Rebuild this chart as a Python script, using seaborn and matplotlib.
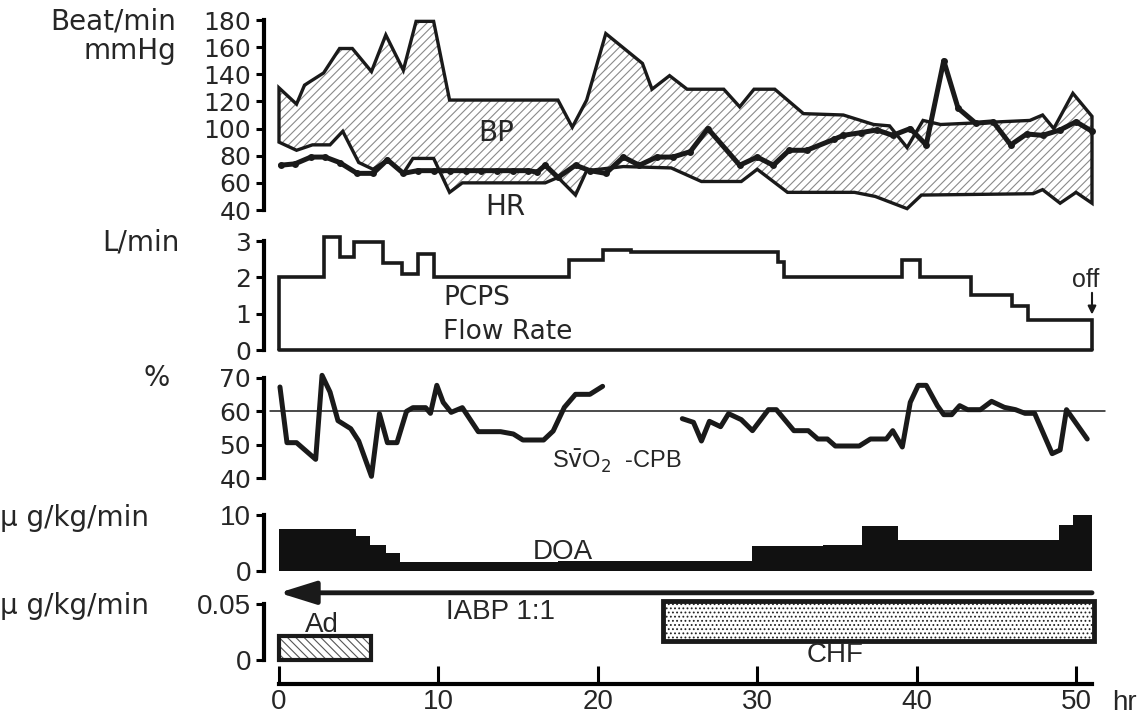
import numpy as np
import pandas as pd
import matplotlib
matplotlib.use('Agg')
import matplotlib.pyplot as plt
import seaborn as sns
from matplotlib import font_manager
from matplotlib.patches import Polygon, Rectangle

# ---- data (hours after PCPS start) ----
bp_sys_t = [0, 1.1, 1.6, 2.8, 3.8, 4.6, 5.8, 6.7, 7.8, 8.6, 9.7, 10.7, 17.5, 18.4, 19.3, 20.5,
            22.8, 23.4, 24.5, 25.6, 27.9, 28.9, 29.8, 31.1, 32.6, 32.9, 35.4, 37.3, 38.3, 39.4,
            40.4, 41.5, 47.1, 47.9, 48.6, 49.8, 51]
bp_sys = [130, 118, 132, 141, 159, 159, 142, 169, 143, 179, 179, 121, 121, 101, 121, 170,
          148, 129, 139, 129, 129, 116, 129, 129, 114, 111, 110, 103, 102, 86,
          106, 103, 106, 110, 100, 126, 109]
bp_dia_t = [0, 1.1, 2.1, 3.2, 4.0, 5.0, 5.9, 6.8, 7.8, 8.4, 9.7, 10.7, 11.5, 16.7, 17.5, 18.6,
            19.3, 21.6, 24.6, 26.5, 29, 30, 31.9, 35, 36.1, 37.4, 39.4, 40.3, 47.3, 47.9, 49, 50, 51]
bp_dia = [90, 84, 88, 88, 98, 75, 70, 77, 67, 78, 78, 53, 60, 60, 64, 51,
          69, 72, 71, 61, 61, 70, 53, 53, 53, 50, 41, 51, 52, 55, 45, 53, 45]
hr_t = [0.1, 1, 2, 2.9, 3.8, 4.9, 5.9, 6.8, 7.8, 8.7, 9.7, 10.7, 11.7, 12.7, 13.7, 14.7, 15.6,
        16.2, 16.7, 17.5, 18.6, 19.5, 20.5, 21.6, 22.6, 23.7, 24.7, 25.8, 26.9, 28.9, 30, 31,
        32, 33.1, 34.8, 35.4, 36.5, 37.5, 38.5, 39.6, 40.6, 41.7, 42.6, 43.7, 44.8, 45.9, 46.9,
        47.9, 49, 50, 51]
hr = [73, 74, 79, 79, 75, 67, 67, 77, 67, 69, 69, 69, 69, 69, 69, 69, 69,
      68, 73, 64, 73, 69, 67, 79, 73, 79, 79, 83, 100, 73, 79, 73,
      84, 84, 92, 95, 97, 99, 95, 100, 88, 150, 115, 104, 105, 88, 96,
      95, 99, 105, 98]

pcps_edges = [0, 2.8, 3.8, 4.7, 6.5, 7.7, 8.7, 9.7, 18.2, 20.3, 22.1, 31.3, 31.7, 39.1, 40.2,
              43.4, 46.0, 47.0, 51.0]
pcps_flow = [2.0, 3.1, 2.57, 2.97, 2.39, 2.09, 2.63, 2.02, 2.48, 2.74, 2.71, 2.43, 2.0, 2.48,
             2.02, 1.52, 1.22, 0.83]

svo2_t1 = [0.06, 0.5, 1.1, 2.3, 2.7, 3.2, 3.7, 4.5, 5.0, 5.8, 6.3, 6.8, 7.4, 8.0, 8.4, 9.2, 9.5,
           9.9, 10.3, 10.8, 11.5, 12.5, 13.9, 14.7, 15.3, 16.6, 17.2, 17.9, 18.6, 19.5, 20.3]
svo2_1 = [67.3, 50.6, 50.6, 45.6, 70.8, 65.8, 57.2, 54.8, 51.1, 40.5, 59.3, 50.6, 50.6, 60, 61.1,
          61.1, 59.4, 67.8, 62.7, 59.7, 61.1, 53.9, 53.9, 53.2, 51.4, 51.4, 54.1, 61.2, 65.1, 65.1, 67.5]
svo2_t2 = [25.3, 26, 26.5, 27, 27.7, 28.2, 29, 29.7, 30.7, 31.2, 32.3, 33.2, 33.8, 34.4, 34.9,
           36.4, 37.1, 38.1, 38.5, 39.1, 39.6, 40.1, 40.6, 41.3, 41.7, 42.2, 42.7, 43.2, 44,
           44.7, 45.5, 46.2, 46.8, 47.4, 48.5, 49, 49.4, 50.7]
svo2_2 = [57.8, 56.7, 51.1, 57, 55.4, 59.3, 57.5, 54.2, 60.5, 60.5, 54.2, 54.2, 51.7, 51.7, 49.6,
          49.6, 51.7, 51.7, 54.2, 49.3, 62.7, 67.8, 67.8, 61.7, 59, 59, 61.7, 60.5, 60.5,
          63, 61.2, 60.5, 59.4, 59.4, 47.3, 48.4, 60.5, 51.7]

doa_edges = [0, 4.8, 5.7, 6.7, 7.6, 17.5, 29.7, 34.1, 36.6, 38.8, 48.9, 49.8, 51]
doa_rate = [7.5, 6.2, 4.7, 3.2, 1.6, 1.8, 4.4, 4.6, 8.1, 5.5, 8.3, 10]

ad_span = (0, 5.75)
ad_rate = (0.0, 0.021)
chf_span = (24.1, 51.1)
chf_band = (0.0166, 0.0523)
iabp_span = (0, 51)

# ---- style ----
sns.set_style('white')
plt.rcParams['font.family'] = ['DejaVu Sans']
plt.rcParams['hatch.linewidth'] = 0.8
names = {f.name for f in font_manager.fontManager.ttflist}
NARROW = 'Liberation Sans Narrow' if 'Liberation Sans Narrow' in names else 'Liberation Sans'
FS = 17
W_PX, H_PX = 1140, 717
X0, X1 = 279, 1092

fig = plt.figure(figsize=(W_PX / 100, H_PX / 100), dpi=100)


def panel(top, bottom, lo, hi, ticks, ticklabels=None, narrow=False):
    ax = fig.add_axes([X0 / W_PX, 1 - bottom / H_PX, (X1 - X0) / W_PX, (bottom - top) / H_PX])
    ax.set_xlim(0, 51)
    ax.set_ylim(lo, hi)
    ax.patch.set_alpha(0)
    for s in ['top', 'right', 'bottom']:
        ax.spines[s].set_visible(False)
    ax.spines['left'].set_position(('outward', 11))
    ax.spines['left'].set_linewidth(3)
    ax.spines['left'].set_color('k')
    ax.set_yticks(ticks)
    if ticklabels is not None:
        ax.set_yticklabels(ticklabels)
    ax.tick_params(axis='y', direction='out', length=6, width=2.2, pad=3, labelsize=FS + 1,
                   color='k', left=True)
    ax.tick_params(axis='x', bottom=False, labelbottom=False)
    if narrow:
        for lab in ax.get_yticklabels():
            lab.set_fontfamily(NARROW)
            lab.set_fontsize(FS + 3)
    ax.grid(False)
    return ax


def ftext(x, y, s, **kw):
    fig.text(x / W_PX, 1 - y / H_PX, s, va='center', **kw)


# ---- panel 1: BP band and HR ----
ax1 = panel(20, 210, 40, 180, range(40, 181, 20))
poly_x = list(bp_sys_t) + list(bp_dia_t[::-1])
poly_y = list(bp_sys) + list(bp_dia[::-1])
xy = np.column_stack([poly_x, poly_y])
ax1.add_patch(Polygon(xy, closed=True, facecolor='white', edgecolor='#8a8a8a', hatch='////',
                      lw=0, clip_on=False))
ax1.add_patch(Polygon(xy, closed=True, facecolor='none', edgecolor='#1a1a1a', lw=2.4,
                      joinstyle='miter', clip_on=False))
sns.lineplot(x=hr_t, y=hr, ax=ax1, estimator=None, sort=False, color='#1a1a1a', lw=3.6,
             marker='o', markersize=5, markeredgewidth=0, clip_on=False)
ax1.text(13.6, 97, 'BP', ha='center', va='center', fontsize=FS + 3)
ax1.text(14.2, 42, 'HR', ha='center', va='center', fontsize=FS + 3)
ftext(176, 22, 'Beat/min', ha='right', fontsize=FS + 3)
ftext(176, 51, 'mmHg', ha='right', fontsize=FS + 3)

# ---- panel 2: PCPS flow ----
ax2 = panel(241, 350, 0, 3, [0, 1, 2, 3])
ax2.stairs(pcps_flow, pcps_edges, baseline=0, color='#1a1a1a', lw=2.6, clip_on=False)
ax2.plot([pcps_edges[0], pcps_edges[-1]], [0, 0], color='#1a1a1a', lw=2.6, clip_on=False)
ax2.text(10.3, 1.43, 'PCPS', ha='left', va='center', fontsize=FS + 2)
ax2.text(10.3, 0.5, 'Flow Rate', ha='left', va='center', fontsize=FS + 2)
ax2.text(50.6, 1.93, 'off', ha='center', va='center', fontsize=FS + 1, fontfamily=NARROW)
ax2.annotate('', xy=(51, 0.9), xytext=(51, 1.65),
             arrowprops=dict(arrowstyle='-|>', color='#1a1a1a', lw=1.5, mutation_scale=12),
             annotation_clip=False)
ftext(180, 243, 'L/min', ha='right', fontsize=FS + 3)

# ---- panel 3: SvO2 ----
ax3 = panel(378, 478, 40, 70, [40, 50, 60, 70])
ax3.axhline(60, xmin=-0.011, xmax=1.016, color='#1a1a1a', lw=1.1, clip_on=False)
sns.lineplot(x=svo2_t1, y=svo2_1, ax=ax3, estimator=None, sort=False, color='#1a1a1a', lw=3.6,
             clip_on=False)
sns.lineplot(x=svo2_t2, y=svo2_2, ax=ax3, estimator=None, sort=False, color='#1a1a1a', lw=3.6,
             clip_on=False)
ax3.text(17.1, 45, r'S$\bar{\mathrm{v}}$O$_2$  -CPB', ha='left', va='center', fontsize=FS,
         fontfamily=NARROW)
ftext(170, 378, '%', ha='right', fontsize=FS + 3)

# ---- panel 4: DOA ----
ax4 = panel(515, 571, 0, 10, [0, 10], narrow=True)
ax4.stairs(doa_rate, doa_edges, baseline=0, fill=True, color='#111111', clip_on=False)
ax4.text(17.8, 3.4, 'DOA', ha='center', va='center', fontsize=FS + 3, fontfamily=NARROW)
ftext(0, 518, 'μ g/kg/min', ha='left', fontsize=FS + 3)

# ---- panel 5: Ad, CHF, IABP and time axis ----
ax5 = panel(604, 660, 0, 0.05, [0, 0.05], ['0', '0.05'], narrow=True)
ax5.add_patch(Rectangle((ad_span[0], ad_rate[0]), ad_span[1] - ad_span[0], ad_rate[1] - ad_rate[0],
                        facecolor='white', edgecolor='#555555', hatch='\\\\\\\\', lw=0, clip_on=False))
ax5.add_patch(Rectangle((ad_span[0], ad_rate[0]), ad_span[1] - ad_span[0], ad_rate[1] - ad_rate[0],
                        facecolor='none', edgecolor='#1a1a1a', lw=3, clip_on=False))
ax5.add_patch(Rectangle((chf_span[0], chf_band[0]), chf_span[1] - chf_span[0],
                        chf_band[1] - chf_band[0], facecolor='white', edgecolor='#222222',
                        hatch='....', lw=0, clip_on=False))
ax5.add_patch(Rectangle((chf_span[0], chf_band[0]), chf_span[1] - chf_span[0],
                        chf_band[1] - chf_band[0], facecolor='none', edgecolor='#1a1a1a',
                        lw=3.5, clip_on=False))
ax5.annotate('', xy=(iabp_span[0], 0.06), xytext=(iabp_span[1], 0.06),
             arrowprops=dict(arrowstyle='-|>,head_length=1.6,head_width=0.5', color='#1a1a1a',
                             lw=3.5, mutation_scale=14, shrinkA=0, shrinkB=0),
             annotation_clip=False)
ax5.text(13.9, 0.043, 'IABP 1:1', ha='center', va='center', fontsize=FS + 3, fontfamily=NARROW)
ax5.text(2.7, 0.031, 'Ad', ha='center', va='center', fontsize=FS + 3, fontfamily=NARROW)
ax5.text(34.9, 0.0045, 'CHF', ha='center', va='center', fontsize=FS + 3, fontfamily=NARROW)
ftext(0, 606, 'μ g/kg/min', ha='left', fontsize=FS + 3)

ax5.spines['bottom'].set_visible(True)
ax5.spines['bottom'].set_position(('outward', 17))
ax5.spines['bottom'].set_linewidth(3)
ax5.spines['bottom'].set_color('k')
ax5.spines['bottom'].set_bounds(0, 51)
ax5.set_xticks(range(0, 51, 10))
ax5.tick_params(axis='x', bottom=True, labelbottom=True, direction='in', length=13, width=2.2,
                pad=4, labelsize=FS + 3, color='k')
for lab in ax5.get_xticklabels():
    lab.set_fontfamily(NARROW)
ftext(1112, 703, 'hr', ha='left', fontsize=FS + 3, fontfamily=NARROW)

fig.savefig('out.png', dpi=100)
